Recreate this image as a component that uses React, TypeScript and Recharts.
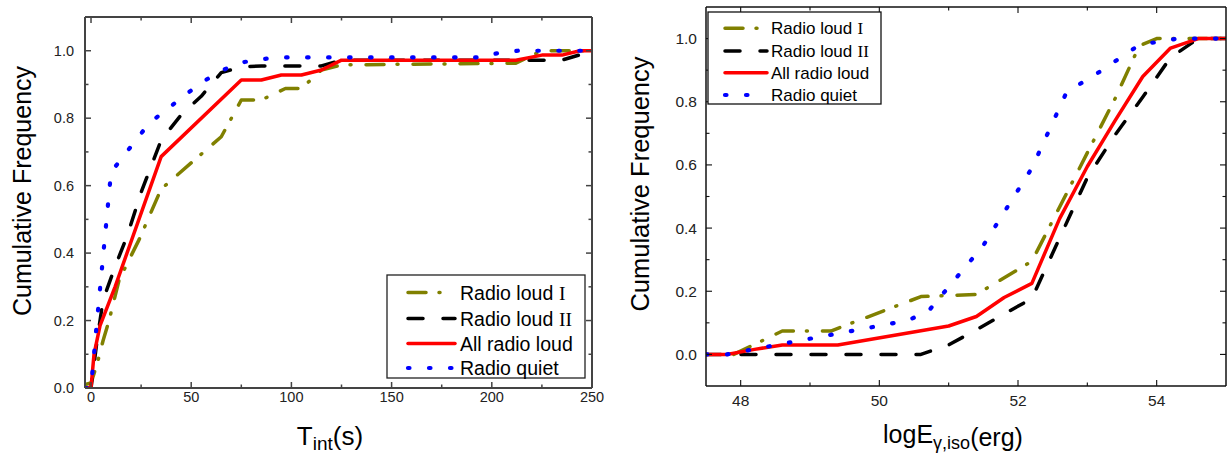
import React from 'react';
import { LineChart, Line, XAxis, YAxis } from 'recharts';

// ---------- Left panel: T_int (s) ----------
const leftLoud1X = [-3, 0, 3, 6, 9, 14, 24, 35, 65, 75, 85, 97, 105, 115, 125, 212, 225, 250];
const leftLoud1Y = [0.01, 0.015, 0.07, 0.14, 0.2, 0.32, 0.44, 0.59, 0.745, 0.854, 0.854, 0.888, 0.888, 0.943, 0.958, 0.963, 1.0, 1.0];
const leftLoud2X = [-3, 0, 3, 6, 12, 18, 25, 35, 45, 55, 65, 75, 85, 115, 125, 235, 245, 250];
const leftLoud2Y = [0, 0, 0.14, 0.26, 0.36, 0.45, 0.58, 0.735, 0.81, 0.865, 0.935, 0.952, 0.955, 0.955, 0.972, 0.972, 0.99, 1.0];
const leftAllX = [-3, 0, 1.5, 4.5, 12, 35, 75, 85, 95, 105, 115, 125, 212, 225, 235, 244, 250];
const leftAllY = [0, 0, 0.1, 0.185, 0.3, 0.686, 0.913, 0.913, 0.928, 0.928, 0.943, 0.972, 0.972, 0.987, 0.987, 1.0, 1.0];
const leftQuietX = [-3, 0, 3, 10, 16, 29, 54, 64, 74, 85, 95, 195, 200, 213, 250];
const leftQuietY = [0, 0, 0.2, 0.64, 0.686, 0.785, 0.901, 0.938, 0.964, 0.975, 0.98, 0.98, 0.99, 1.0, 1.0];

// ---------- Right panel: log E_gamma,iso (erg) ----------
const rightLoud1X = [47.9, 48.6, 49.3, 50.6, 51.4, 52.2, 53.4, 53.75, 54.0, 55];
const rightLoud1Y = [0, 0.074, 0.074, 0.183, 0.19, 0.295, 0.81, 0.977, 1.0, 1.0];
const rightLoud2X = [47.5, 50.6, 51.0, 51.4, 51.8, 52.2, 53.0, 53.4, 53.8, 54.2, 54.6, 55];
const rightLoud2Y = [0, 0, 0.03, 0.078, 0.128, 0.177, 0.56, 0.695, 0.815, 0.94, 1.0, 1.0];
const rightAllX = [47.5, 47.8, 48.2, 48.6, 49.4, 51.0, 51.4, 51.8, 52.2, 52.6, 53.0, 53.4, 53.8, 54.2, 54.6, 55];
const rightAllY = [0, 0, 0.016, 0.03, 0.03, 0.09, 0.12, 0.18, 0.225, 0.43, 0.595, 0.74, 0.88, 0.97, 1.0, 1.0];
const rightQuietX = [47.5, 47.8, 48.2, 50.4, 50.7, 51.5, 51.8, 52.2, 52.7, 53.2, 53.75, 54.3, 55];
const rightQuietY = [0, 0, 0.017, 0.107, 0.135, 0.345, 0.45, 0.59, 0.83, 0.898, 0.98, 1.0, 1.0];

// ---------- ticks ----------
const freqTicks = [0, 0.1, 0.2, 0.3, 0.4, 0.5, 0.6, 0.7, 0.8, 0.9, 1.0];
const tintTicks = [0, 25, 50, 75, 100, 125, 150, 175, 200, 225, 250];
const energyTicks = [48, 49, 50, 51, 52, 53, 54];

const seriesNames = ['Radio loud', 'Radio loud', 'All radio loud', 'Radio quiet'];
const seriesRoman = ['I', 'II', '', ''];

const zip = (xs: number[], ys: number[]) => xs.map((x, i) => ({ x, y: ys[i] }));

const STYLES = [
  { color: '#808000', dash: '18 13 1 15', w: 3.5 },
  { color: '#000000', dash: '15 20', w: 3.5 },
  { color: '#ff0000', dash: undefined as string | undefined, w: 3.5 },
  { color: '#0000ff', dash: '1.5 19.5', w: 4.2 },
];

const SANS = '"Liberation Sans", Arial, Helvetica, sans-serif';
const SERIF = '"Liberation Serif", "Times New Roman", serif';

type Side = 'left' | 'right' | 'top' | 'bottom';

function makeTick(
  side: Side,
  isMajor: (v: number) => boolean,
  fmt: ((v: number) => string) | null,
  fontSize: number,
  gap: number,
  color: string,
  sw: number
) {
  return (props: any) => {
    const { x, y, payload } = props;
    const v = Number(payload.value);
    const maj = isMajor(v);
    const len = maj ? 6 : 3.5;
    let line: any = null;
    let text: any = null;
    if (side === 'left') {
      line = <line x1={x} y1={y} x2={x + len} y2={y} stroke={color} strokeWidth={sw} />;
      if (fmt && maj)
        text = (
          <text x={x - gap} y={y} textAnchor="end" dominantBaseline="central" fontSize={fontSize} fill="#222" fontFamily={SANS}>
            {fmt(v)}
          </text>
        );
    } else if (side === 'right') {
      line = <line x1={x} y1={y} x2={x - len} y2={y} stroke={color} strokeWidth={sw} />;
    } else if (side === 'top') {
      line = <line x1={x} y1={y} x2={x} y2={y + len} stroke={color} strokeWidth={sw} />;
    } else {
      line = <line x1={x} y1={y} x2={x} y2={y - len} stroke={color} strokeWidth={sw} />;
      if (fmt && maj)
        text = (
          <text x={x} y={y + gap} textAnchor="middle" dy="0.71em" fontSize={fontSize} fill="#222" fontFamily={SANS}>
            {fmt(v)}
          </text>
        );
    }
    return (
      <g>
        {line}
        {text}
      </g>
    );
  };
}

const isFreqMajor = (v: number) => Math.round(v * 10) % 2 === 0;
const fmtFreq = (v: number) => v.toFixed(1);

function Panel(props: {
  left: number;
  width: number;
  margin: any;
  yWidth: number;
  xHeight: number;
  xDomain: [number, number];
  yDomain: [number, number];
  xTicks: number[];
  isXMajor: (v: number) => boolean;
  series: { x: number; y: number }[][];
  frame: string;
  frameW: number;
  tickFont: number;
  yGap: number;
  xGap: number;
}) {
  const p = props;
  return (
    <div style={{ position: 'absolute', left: p.left, top: 0 }}>
      <LineChart width={p.width} height={457} margin={p.margin}>
        <XAxis
          xAxisId="b"
          type="number"
          dataKey="x"
          orientation="bottom"
          height={p.xHeight}
          domain={p.xDomain}
          allowDataOverflow
          ticks={p.xTicks}
          interval={0}
          tickLine={false}
          tickSize={0}
          tickMargin={0}
          axisLine={{ stroke: p.frame, strokeWidth: p.frameW }}
          tick={makeTick('bottom', p.isXMajor, (v) => String(v), p.tickFont, p.xGap, p.frame, p.frameW * 0.75)}
        />
        <XAxis
          xAxisId="t"
          type="number"
          dataKey="x"
          orientation="top"
          height={1}
          domain={p.xDomain}
          allowDataOverflow
          ticks={p.xTicks}
          interval={0}
          tickLine={false}
          tickSize={0}
          tickMargin={0}
          axisLine={{ stroke: p.frame, strokeWidth: p.frameW }}
          tick={makeTick('top', p.isXMajor, null, p.tickFont, 0, p.frame, p.frameW * 0.75)}
        />
        <YAxis
          yAxisId="l"
          type="number"
          orientation="left"
          width={p.yWidth}
          domain={p.yDomain}
          allowDataOverflow
          ticks={freqTicks}
          interval={0}
          tickLine={false}
          tickSize={0}
          tickMargin={0}
          axisLine={{ stroke: p.frame, strokeWidth: p.frameW }}
          tick={makeTick('left', isFreqMajor, fmtFreq, p.tickFont, p.yGap, p.frame, p.frameW * 0.75)}
        />
        <YAxis
          yAxisId="r"
          type="number"
          orientation="right"
          width={1}
          domain={p.yDomain}
          allowDataOverflow
          ticks={freqTicks}
          interval={0}
          tickLine={false}
          tickSize={0}
          tickMargin={0}
          axisLine={{ stroke: p.frame, strokeWidth: p.frameW }}
          tick={makeTick('right', isFreqMajor, null, p.tickFont, 0, p.frame, p.frameW * 0.75)}
        />
        {p.series.map((d, i) => (
          <Line
            key={i}
            xAxisId="b"
            yAxisId="l"
            data={d}
            dataKey="y"
            type="linear"
            stroke={STYLES[i].color}
            strokeWidth={STYLES[i].w}
            strokeDasharray={STYLES[i].dash}
            strokeLinecap="round"
            strokeLinejoin="round"
            dot={false}
            activeDot={false}
            isAnimationActive={false}
          />
        ))}
      </LineChart>
    </div>
  );
}

function Legend(props: {
  x: number;
  y: number;
  w: number;
  h: number;
  rows: number[];
  s1: number;
  s2: number;
  tx: number;
  font: number;
  border: string;
}) {
  const p = props;
  return (
    <g>
      <rect x={p.x} y={p.y} width={p.w} height={p.h} fill="#fff" stroke={p.border} strokeWidth={1.3} />
      {seriesNames.map((n, i) => (
        <g key={i}>
          <line
            x1={p.s1}
            x2={p.s2}
            y1={p.rows[i]}
            y2={p.rows[i]}
            stroke={STYLES[i].color}
            strokeWidth={STYLES[i].w}
            strokeDasharray={STYLES[i].dash}
            strokeLinecap="round"
          />
          <text x={p.tx} y={p.rows[i] + p.font * 0.36} fontSize={p.font} fontFamily={SANS} fill="#000">
            {n}
            {seriesRoman[i] ? (
              <tspan fontFamily={SERIF} dx={1}>
                {' ' + seriesRoman[i]}
              </tspan>
            ) : null}
          </text>
        </g>
      ))}
    </g>
  );
}

export default function App() {
  const leftSeries = [
    zip(leftLoud1X, leftLoud1Y),
    zip(leftLoud2X, leftLoud2Y),
    zip(leftAllX, leftAllY),
    zip(leftQuietX, leftQuietY),
  ];
  const rightSeries = [
    zip(rightLoud1X, rightLoud1Y),
    zip(rightLoud2X, rightLoud2Y),
    zip(rightAllX, rightAllY),
    zip(rightQuietX, rightQuietY),
  ];
  return (
    <div style={{ position: 'absolute', left: 0, top: 0, width: 1228, height: 457, background: '#fff', fontFamily: SANS }}>
      <Panel
        left={0}
        width={625}
        margin={{ top: 16, right: 32, bottom: 0, left: 0 }}
        yWidth={85}
        xHeight={69}
        xDomain={[-3, 250]}
        yDomain={[0, 1.1]}
        xTicks={tintTicks}
        isXMajor={(v) => v % 50 === 0}
        series={leftSeries}
        frame="#444"
        frameW={2}
        tickFont={14.5}
        yGap={11}
        xGap={4}
      />
      <Panel
        left={625}
        width={603}
        margin={{ top: 6, right: 1, bottom: 0, left: 0 }}
        yWidth={81}
        xHeight={71}
        xDomain={[47.5, 55]}
        yDomain={[-0.1, 1.1]}
        xTicks={energyTicks}
        isXMajor={(v) => v % 2 === 0}
        series={rightSeries}
        frame="#111"
        frameW={1.5}
        tickFont={15.5}
        yGap={9}
        xGap={9}
      />
      <svg width={1228} height={457} style={{ position: 'absolute', left: 0, top: 0, pointerEvents: 'none' }}>
        <text transform="translate(31,191) rotate(-90)" textAnchor="middle" fontSize={25} fontFamily={SANS} fill="#000">
          Cumulative Frequency
        </text>
        <text transform="translate(649,184) rotate(-90)" textAnchor="middle" fontSize={25.5} fontFamily={SANS} fill="#000">
          Cumulative Frequency
        </text>
        <text x={330} y={445} textAnchor="middle" fontSize={26} fontFamily={SANS} fill="#000">
          T
          <tspan fontSize={19} dy={5}>
            int
          </tspan>
          <tspan dy={-5}>(s)</tspan>
        </text>
        <text x={953} y={443} textAnchor="middle" fontSize={25} fontFamily={SANS} fill="#000">
          logE
          <tspan fontSize={18} dy={6}>
            γ,iso
          </tspan>
          <tspan dy={-3}>(erg)</tspan>
        </text>
        <Legend x={387} y={275} w={198} h={103} rows={[292.5, 318.5, 343.5, 368]} s1={408} s2={455} tx={460} font={19.5} border="#222" />
        <Legend x={708} y={12} w={173} h={92} rows={[28.3, 51, 72.7, 95]} s1={725} s2={767} tx={771} font={17} border="#111" />
      </svg>
    </div>
  );
}
